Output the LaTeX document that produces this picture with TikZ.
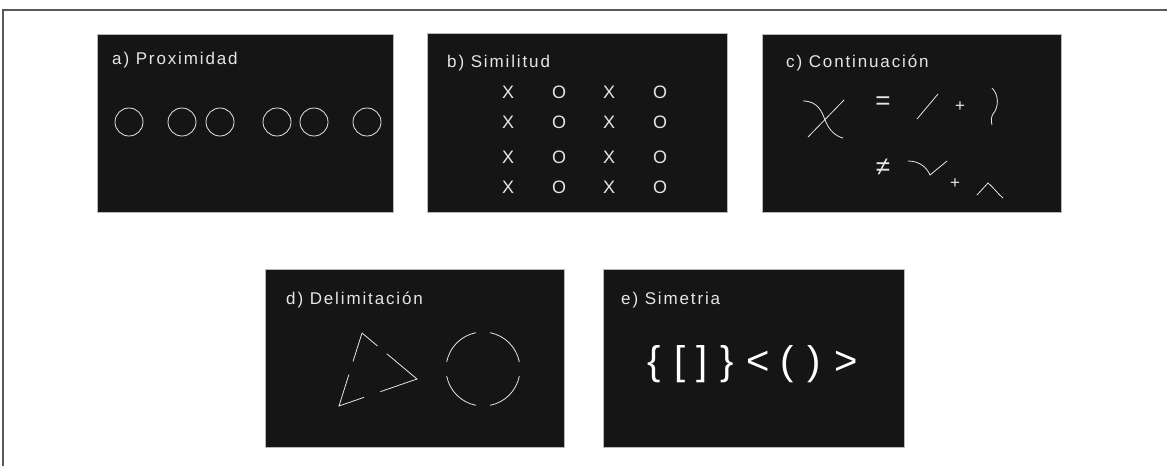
\documentclass[tikz,border=0pt]{standalone}
\usepackage{fontspec}
\setmainfont{Liberation Sans}
\newfontfamily\titlefont[LetterSpace=11]{Liberation Sans}
\usetikzlibrary{calc}
\definecolor{panelbg}{HTML}{151515}
\definecolor{ink}{HTML}{E6E6E6}
\tikzset{
  panel/.style={fill=panelbg, draw=gray!55, line width=0.7pt},
  ptitle/.style={anchor=base west, inner sep=0pt, text=ink, font=\titlefont\fontsize{17}{17}\selectfont},
  stroke/.style={draw=ink, line width=0.8pt},
  glyph/.style={inner sep=0pt, text=ink, font=\fontsize{18}{18}\selectfont},
  opglyph/.style={inner sep=0pt, text=ink, font=\fontsize{26}{26}\selectfont},
  plusglyph/.style={inner sep=0pt, text=ink, font=\fontsize{17}{17}\selectfont},
  sym/.style={anchor=base, inner sep=0pt, text=white, font=\fontsize{40}{40}\selectfont},
}
\begin{document}
\begin{tikzpicture}[x=1pt,y=-1pt]
\useasboundingbox (0,0) rectangle (1167,466);
% outer frame
\coordinate (frTR) at (1167,10);
\coordinate (frTL) at (3,10);
\coordinate (frBL) at (3,466);
\draw[gray!70!black, line width=1.2pt] (frTR) -- (frTL) -- (frBL);

% panels
\path[panel] (97,34) rectangle (393,212);
\path[panel] (427,33) rectangle (727,212);
\path[panel] (762,34) rectangle (1061,212);
\path[panel] (265,269) rectangle (564,447);
\path[panel] (603,269) rectangle (904,447);

% a) Proximidad
\node[ptitle] (ta) at (112,64) {a) Proximidad};
\foreach \cx/\nm in {129/a1,182/a2,220/a3,277/a4,314/a5,367/a6}{
  \coordinate (\nm) at (\cx,122);
  \draw[stroke] (\nm) circle (14);
}

% b) Similitud
\node[ptitle] (tb) at (447,67) {b) Similitud};
\foreach \ry [count=\r] in {92,122,157,187}{
  \node[glyph] (bx1\r) at (508,\ry) {X};
  \node[glyph] (bo1\r) at (559,\ry) {O};
  \node[glyph] (bx2\r) at (609,\ry) {X};
  \node[glyph] (bo2\r) at (660,\ry) {O};
}

% c) Continuación
\node[ptitle] (tc) at (786,67) {c) Continuación};
\draw[stroke] (803,101) .. controls (818,101) and (822,112) .. (825,120)
  .. controls (829,130) and (835,136) .. (843,138);
\coordinate (cl1a) at (844,100); \coordinate (cl1b) at (808,137);
\draw[stroke] (cl1a) -- (cl1b);
\node[opglyph] (ceq) at (883,103) {=};
\coordinate (cl2a) at (938,94); \coordinate (cl2b) at (917,119);
\draw[stroke] (cl2a) -- (cl2b);
\node[plusglyph] (cp1) at (960,107) {+};
\draw[stroke] (992,88) .. controls (999,95) and (999,107) .. (993,114)
  .. controls (991,117) and (991,121) .. (992,125);
\node[opglyph] (cneq) at (883,167) {≠};
\draw[stroke] (908,161) .. controls (920,161) and (927,168) .. (930,175) -- (947,161);
\node[plusglyph] (cp2) at (955,184) {+};
\coordinate (ch1) at (977,195); \coordinate (ch2) at (988,183); \coordinate (ch3) at (1003,198);
\draw[stroke] (ch1) -- (ch2) .. controls (994,188) and (998,194) .. (ch3);

% d) Delimitación
\node[ptitle] (td) at (286,304) {d) Delimitación};
\coordinate (T) at (362,333);
\coordinate (R) at (417,379);
\coordinate (L) at (339,406);
\draw[stroke] (T) -- ($(T)!0.28!(R)$);
\draw[stroke] ($(T)!0.45!(R)$) -- (R) -- ($(R)!0.47!(L)$);
\draw[stroke] ($(R)!0.68!(L)$) -- (L) -- ($(L)!0.43!(T)$);
\draw[stroke] ($(L)!0.61!(T)$) -- (T);
\coordinate (dc) at (483,369);
\foreach \a in {0,90,180,270}{
  \draw[stroke] ($(dc)+(\a+11:37)$) arc[start angle=\a+11, end angle=\a+79, radius=37];
}

% e) Simetria
\node[ptitle] (te) at (621,304) {e) Simetria};
\node[sym] (e1) at (654,374) {\{};
\node[sym] (e2) at (680,374) {[};
\node[sym] (e3) at (702,374) {]};
\node[sym] (e4) at (727,374) {\}};
\node[sym] (e5) at (758,374) {<};
\node[sym] (e6) at (787,374) {(};
\node[sym] (e7) at (814,374) {)};
\node[sym] (e8) at (846,374) {>};
\end{tikzpicture}
\end{document}
